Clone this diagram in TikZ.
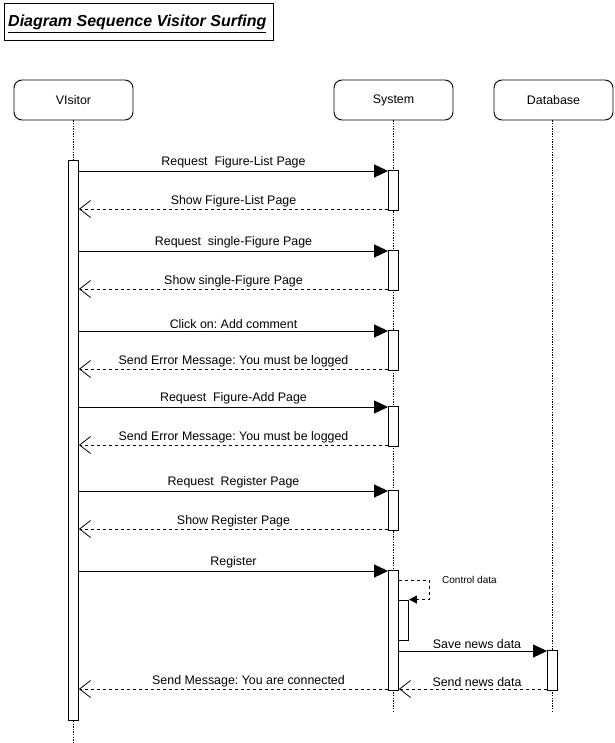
\documentclass[tikz,border=0pt]{standalone}
\usepackage{fontspec}
\setmainfont{Liberation Sans}
\usetikzlibrary{arrows.meta}
\frenchspacing
\begin{document}
\frenchspacing
\begin{tikzpicture}[x=1pt,y=-1pt,
  header/.style={draw,rounded corners=8pt,line width=0.9pt,minimum width=119pt,minimum height=40pt,font=\fontsize{12.4}{14}\selectfont,inner sep=0pt},
  life/.style={line width=1.5pt,dash pattern=on 1.3pt off 1.3pt,black},
  act/.style={draw,fill=white,line width=0.9pt,minimum width=10pt,inner sep=0pt},
  call/.style={line width=0.9pt,-{Triangle[length=14pt,width=13pt]}},
  ret/.style={line width=0.8pt,dash pattern=on 3pt off 3pt,-{Straight Barb[length=11pt,width=17pt,line width=0.8pt]}},
  lbl/.style={font=\fontsize{12.4}{14}\selectfont,inner sep=0pt,anchor=base}
]
\useasboundingbox (0,0) rectangle (614,743);
% title
\draw[line width=0.9pt] (4,3) rectangle (273,40);
\node[anchor=base west,inner sep=0pt] (title) at (8,27)
  {\fontsize{16}{19}\selectfont\bfseries\itshape\underline{Diagram Sequence Visitor Surfing}};
% headers
\node[header] (vis) at (73.5,100) {VIsitor};
\node[header] (sys) at (393.5,100) {System};
\node[header] (db) at (553.5,100) {Database};
% lifelines
\coordinate (visend) at (73.5,743);
\coordinate (sysend) at (393.5,712);
\coordinate (dbend) at (552.5,712);
\draw[life] (vis.south) -- (visend);
\draw[life] (sys.south) -- (sysend);
\draw[life] (db.south -| dbend) -- (dbend);
% activations
\node[act,minimum height=560pt] (va) at (73.5,440) {};
\node[act,minimum height=40pt] (s1) at (393.5,190) {};
\node[act,minimum height=40pt] (s2) at (393.5,270) {};
\node[act,minimum height=40pt] (s3) at (393.5,350) {};
\node[act,minimum height=40pt] (s4) at (393.5,426) {};
\node[act,minimum height=40pt] (s5) at (393.5,510) {};
\node[act,minimum height=120pt] (s6) at (393.5,630) {};
\node[act,minimum height=40pt] (s7) at (403.5,620) {};
\node[act,minimum height=40pt] (d1) at (552.5,670) {};
% messages
\newcommand{\msgcall}[3]{%
  \draw[call] (va.east |- 0,#1) -- (#2.west |- 0,#1) node[lbl,midway,above=2pt] {#3};}
\newcommand{\msgret}[3]{%
  \draw[ret] (#2.west |- 0,#1) -- (va.east |- 0,#1) node[lbl,midway,above=2pt] {#3};}
\msgcall{171}{s1}{Request\ \ Figure-List Page}
\msgret{209}{s1}{Show Figure-List Page}
\msgcall{251}{s2}{Request\ \ single-Figure Page}
\msgret{289}{s2}{Show single-Figure Page}
\msgcall{331}{s3}{Click on: Add comment}
\msgret{369}{s3}{Send Error Message: You must be logged}
\msgcall{407}{s4}{Request\ \ Figure-Add Page}
\msgret{445}{s4}{Send Error Message: You must be logged}
\msgcall{491}{s5}{Request\ \ Register Page}
\msgret{529}{s5}{Show Register Page}
\msgcall{571}{s6}{Register}
% self call
\coordinate (cturn) at (429,580);
\draw[line width=0.8pt,dash pattern=on 3pt off 3pt,-{Triangle[length=8pt,width=8pt]}]
  (s6.east |- 0,580) -- (cturn) -- (cturn |- s7.north) -- (s7.north east);
\node[font=\fontsize{10}{12}\selectfont,anchor=base west,inner sep=0pt] (ctl) at (442,583) {Control data};
% database
\draw[call] (s6.east |- 0,651) -- (d1.west |- 0,651) node[lbl,midway,above=2pt,xshift=4pt] {Save news data};
\draw[ret] (d1.west |- 0,689) -- (s6.east |- 0,689) node[lbl,midway,above=2pt,xshift=4pt] {Send news data};
\draw[ret] (s6.west |- 0,689) -- (va.east |- 0,689) node[lbl,midway,above=2pt,xshift=15pt] {Send Message: You are connected};
\end{tikzpicture}
\end{document}
